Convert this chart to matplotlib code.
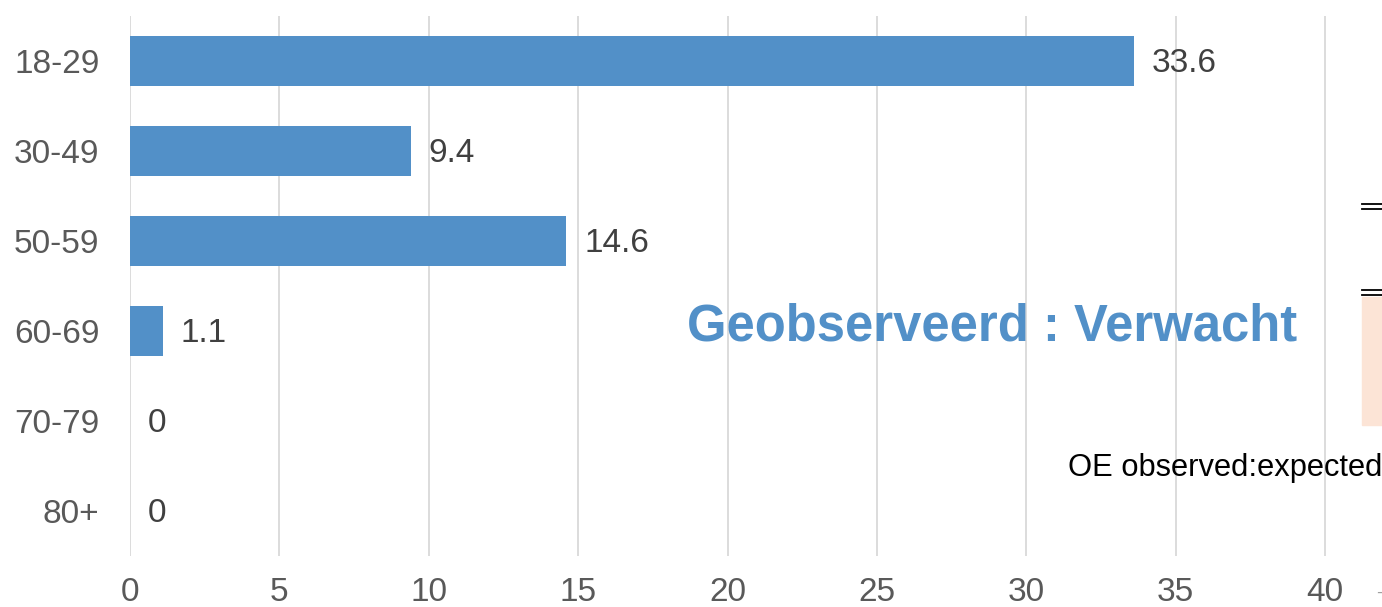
import matplotlib.pyplot as plt
from matplotlib.patches import Rectangle

# data
groups = ['18-29', '30-49', '50-59', '60-69', '70-79', '80+']
values = [33.6, 9.4, 14.6, 1.1, 0, 0]
value_labels = ['33.6', '9.4', '14.6', '1.1', '0', '0']
xticks = [0, 5, 10, 15, 20, 25, 30, 35, 40]

plt.rcParams['font.family'] = ['Liberation Sans', 'DejaVu Sans']

W, H = 1382, 607
fig = plt.figure(figsize=(W / 100, H / 100), dpi=100)

# axes: x=0 at px 130, x=40 at px 1325; rows span px 16..556
x0, px_per_unit = 130, (1325 - 130) / 40
ax = fig.add_axes([x0 / W, (H - 556) / H, (W - x0) / W, 540 / H])
ax.set_xlim(0, (W - x0) / px_per_unit)
ax.set_ylim(len(groups) - 0.5, -0.5)

ax.barh(range(len(groups)), values, height=0.56, color='#5290C8', zorder=2)
for i, (v, lab) in enumerate(zip(values, value_labels)):
    ax.text(v + 0.6, i + 0.03, lab, va='center', ha='left', fontsize=24, color='#404040')

ax.set_xticks(xticks)
ax.set_yticks(range(len(groups)))
ax.set_yticklabels(groups)
ax.tick_params(axis='both', length=0, labelsize=24, labelcolor='#595959')
ax.tick_params(axis='y', pad=22)
ax.tick_params(axis='x', pad=15)
ax.grid(axis='x', color='#D9D9D9', linewidth=1.3, zorder=0)
for s in ax.spines.values():
    s.set_visible(False)

# overlay texts
fig.text(992 / W, 1 - 327 / H, 'Geobserveerd : Verwacht', ha='center', va='center',
         fontsize=36.5, fontweight='bold', color='#5290C8')
fig.text(1382 / W, 1 - 468 / H, 'OE observed:expected', ha='right', va='center',
         fontsize=22.2, color='black')
fig.text(1376 / W, 1 - 593 / H, '-', ha='left', va='center', fontsize=14, color='#A0A0A0')

# right edge fragment of another chart
fig.patches.append(Rectangle((1362 / W, 1 - 425 / H), 20 / W, 128 / H,
                             transform=fig.transFigure, color='#FCE4D6'))
for yp in [204, 209, 290, 295]:
    fig.add_artist(plt.Line2D([1362 / W, 1], [1 - yp / H] * 2, color='black', linewidth=1.3))

plt.savefig('out.png', dpi=100)
